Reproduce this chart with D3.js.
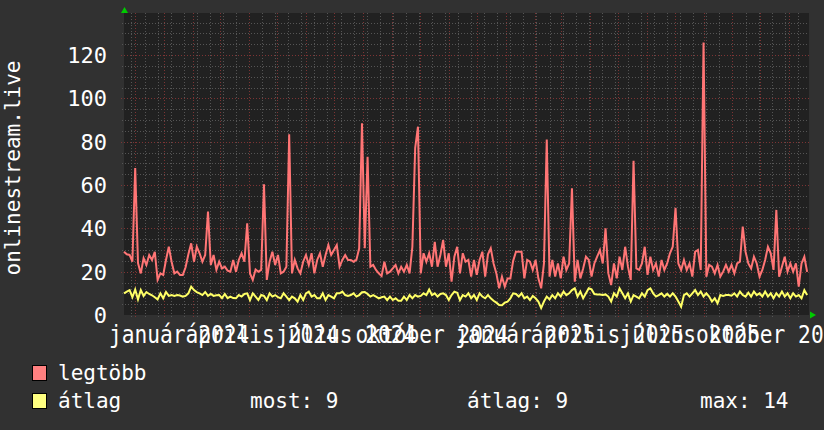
<!DOCTYPE html>
<html><head><meta charset="utf-8">
<script src="https://cdn.jsdelivr.net/npm/d3@7"></script>
<style>
html,body{margin:0;padding:0;background:#313131;}
svg{display:block;}
text{font-family:"DejaVu Sans Mono",monospace;fill:#ffffff;}
</style></head><body>
<svg id="c" width="824" height="430"></svg>
<script>
// ---- data ----
const startDate = "2023-11-19";
const endDate = "2025-11-22";
const stepDays = 3;
const minorAnchor = "2023-11-27";
const yTicks = [0, 20, 40, 60, 80, 100, 120];
const xLabels = ["január 2024","április 2024","július 2024","október 2024","január 2025","április 2025","július 2025","október 2025"];
const xLabelDates = ["2024-01-17","2024-04-15","2024-07-14","2024-10-14","2025-01-22","2025-04-20","2025-07-17","2025-10-14"];
const yTitle = "onlinestream.live";
const seriesNames = ["legtöbb", "átlag"];
const statLabels = ["most: 9", "átlag: 9", "max: 14"];
const maxValues = [
29.2,28,27.7,24.6,67.8,24,19.2,26.2,23.1,27.7,
25.4,29.2,16.2,19.2,18.5,25.4,31.5,24.6,19.2,20,
18.5,18.5,22,28,33.1,24.6,31.5,28.5,24.6,27.7,
47.7,23.1,27.7,20.8,24.6,21.5,22.3,20.5,20,25.4,
20,25.4,28.5,24.6,42.3,19.2,16.2,21,20,20.8,
60.3,16.2,24.6,29.2,23.1,27.7,19.2,20,22.3,83.4,
19.2,25.4,21.5,19.2,24.6,27.7,23.1,28.5,19.2,25.4,
28.5,22.3,27.7,32.3,27.7,30,32.3,22.3,25.4,27.7,
25.4,25.4,24.6,25.4,30.8,88.5,30.8,73,22.3,23.1,
20.8,19.2,18,24.6,19.2,20,21.5,23.1,19.2,22.3,
20,23.1,19.2,31.5,77,86.9,19.2,28.5,24.6,28.5,
22.3,33.8,22.3,27.7,34.6,22.3,28.5,15.4,26.9,31.5,
19.2,28.5,24.6,25.4,17.7,25.4,18.5,25.4,29.2,17.7,
28,30.8,23.8,19.2,12.3,17.7,13.1,16.9,16.9,25,
29.2,29.2,29.2,16.9,25.4,24.6,20.8,25.4,16.9,12.3,
23.8,81,17.7,25.4,17.7,23.8,16.9,26.9,20.8,23.8,
58.5,15.4,25.4,16.9,21.5,26.9,25.4,17.7,23.8,26.9,
30,23.8,40,19.2,13.8,23.8,16.9,26.9,20.8,31.5,
22.3,16.2,71.2,21.5,20.8,23.8,31.5,18.5,26.9,20.8,
23.8,17.7,25.4,20.8,23.8,28.5,31.5,49.5,23.8,20.8,
25.4,20.8,23.8,17.7,29.2,30,20.8,125.8,17.7,23.1,
22.3,19.2,23.1,17.7,20,23.1,20,23.1,19.2,23.8,
24.6,40.8,29.2,23.8,21.5,26.9,23.8,17.7,20.8,25.4,
31.5,28.5,20.8,48.5,17.7,22.3,26.9,20,23.8,20,
23.8,13.1,23.8,26.9,19.9
];
const avgValues = [
10,10.8,11.5,8.2,11.8,7.2,11.5,8.8,10.6,9.7,
9.1,8.2,7.2,10,7.7,10.6,8.8,9.2,8.8,9.2,
9,8.5,8.8,10,13.1,11.5,10.6,10,9.2,10.6,
8.8,9.7,8.8,9.1,9.2,7.8,9.7,7.8,8.5,7.8,
7.7,9.2,8.5,9.7,10,6.9,10,8.5,6.9,9.2,
8.8,6.9,10,8.5,9.2,8.2,7.7,10,8.5,6.9,
8.5,7.7,6.2,9.2,6.9,10,10.8,8.5,9.2,7.7,
7.7,10,6.9,9.2,8.5,7.7,10,10,10.8,9.2,
8.8,9.2,10,8.5,9.2,10.5,10.6,9.7,8.5,9.2,
8.5,7.7,8.2,8.5,6.9,8.5,6.9,7.7,6.6,6.6,
8.5,6.9,9.2,7.7,9.2,8.5,8.8,10,9.2,11.8,
9.2,10,8.5,9.7,10,9.2,6.9,9.2,10.8,10.3,
6.9,9.2,8.5,10,7.7,9.2,6.9,10,8.5,7.7,
9.2,7.7,6.6,5.7,4.6,4.5,5.7,6.2,7.7,10,
9.7,8.5,10,7.7,8.5,6.9,8.8,7.7,6.2,3.2,
6.2,8.5,7.2,9.2,7.7,10,8.5,10.8,9.2,10,
11.5,12.3,8.5,10.8,7.7,10,12.3,11.8,9.7,9.5,
9.5,9.2,9.5,8.5,6.2,10,8.5,12.3,10,7.7,
10,6.2,9.2,8.5,7.7,10,8.5,11.5,12.3,10,
8.5,9.2,10,8.5,9.7,8.5,10,8.5,6.2,3.8,
9.2,10,8.5,10,11.5,9.2,10.8,8.5,10,8.5,
6.2,7.7,5.4,9.2,8.8,9.2,9.2,8.9,10,8.5,
10.8,9.2,8.5,10.3,8.5,10.8,9.2,10,8.5,10.8,
8.5,10,7.7,10,8.5,10.8,8.5,10,7.7,10,
8.5,9.2,7.7,11.5,9.2
];

// ---- drawing ----
const parse = d3.utcParse("%Y-%m-%d");
const t0 = parse(startDate), t1 = parse(endDate);
const plot = {left: 124, right: 809, top: 13, bottom: 315};
const x = d3.scaleUtc().domain([t0, t1]).range([plot.left, plot.right]);
const y = d3.scaleLinear().domain([0, 120]).range([plot.bottom, 55]);
const svg = d3.select("#c");

svg.append("rect").attr("x", plot.left).attr("y", plot.top)
  .attr("width", plot.right - plot.left).attr("height", plot.bottom - plot.top)
  .attr("fill", "#212121");

const g = svg.append("g");
const minorCol = "#555555", majorCol = "#7d3434";
const yMax = y.invert(plot.top);
const yMinor = d3.range(5, yMax, 5).filter(v => v % 20 !== 0);
g.selectAll(".hm").data(yMinor).enter().append("line")
  .attr("x1", plot.left - 2).attr("x2", plot.right)
  .attr("y1", d => Math.round(y(d)) + 0.5).attr("y2", d => Math.round(y(d)) + 0.5)
  .attr("stroke", minorCol).attr("stroke-dasharray", "1,2");
const vMinor = d3.utcDay.range(parse(minorAnchor), t1, 14);
g.selectAll(".vm").data(vMinor).enter().append("line")
  .attr("x1", d => Math.round(x(d)) + 0.5).attr("x2", d => Math.round(x(d)) + 0.5)
  .attr("y1", plot.top).attr("y2", plot.bottom + 2)
  .attr("stroke", minorCol).attr("stroke-dasharray", "1,2");
g.selectAll(".hM").data(yTicks.filter(v => v > 0)).enter().append("line")
  .attr("x1", plot.left - 3).attr("x2", plot.right)
  .attr("y1", d => Math.round(y(d)) + 0.5).attr("y2", d => Math.round(y(d)) + 0.5)
  .attr("stroke", majorCol).attr("stroke-dasharray", "1,2");
const vMajor = d3.utcMonth.range(d3.utcMonth.ceil(t0), t1);
g.selectAll(".vM").data(vMajor).enter().append("line")
  .attr("x1", d => Math.round(x(d)) + 0.5).attr("x2", d => Math.round(x(d)) + 0.5)
  .attr("y1", plot.top).attr("y2", plot.bottom + 3)
  .attr("stroke", majorCol).attr("stroke-dasharray", "1,2");

const pts = vals => vals.map((v, i) => [d3.utcDay.offset(t0, i * stepDays), v]);
const line = d3.line().x(d => x(d[0])).y(d => y(d[1]));
svg.append("path").datum(pts(maxValues)).attr("d", line)
  .attr("fill", "none").attr("stroke", "#ff7575").attr("stroke-width", 2);
svg.append("path").datum(pts(avgValues)).attr("d", line)
  .attr("fill", "none").attr("stroke", "#ffff66").attr("stroke-width", 2);

svg.append("path").attr("d", `M${plot.left - 3},${plot.top} L${plot.left + 4},${plot.top} L${plot.left + 0.5},${plot.top - 6} Z`).attr("fill", "#00cc00");
svg.append("path").attr("d", `M${plot.right + 1},${plot.bottom - 3.5} L${plot.right + 1},${plot.bottom + 3.5} L${plot.right + 7},${plot.bottom} Z`).attr("fill", "#00cc00");

svg.selectAll(".yl").data(yTicks).enter().append("text")
  .attr("x", 107).attr("y", d => y(d)).attr("dy", "0.36em")
  .attr("text-anchor", "end").attr("font-size", 22).text(d => d);

svg.selectAll(".xl").data(xLabels).enter().append("text")
  .attr("transform", (d, i) => `translate(${x(parse(xLabelDates[i]))},343) scale(1,1.2)`)
  .attr("text-anchor", "middle").attr("font-size", 21.2).text(d => d);

svg.append("text").attr("transform", "translate(20,168) rotate(-90)")
  .attr("text-anchor", "middle").attr("font-size", 21).text(yTitle);

const legColors = ["#ff8080", "#ffff80"];
const legY = [373, 401];
seriesNames.forEach((n, i) => {
  svg.append("rect").attr("x", 32.5).attr("y", legY[i] - 7.5).attr("width", 14).attr("height", 15)
    .attr("fill", legColors[i]).attr("stroke", "#000").attr("stroke-width", 1);
  svg.append("text").attr("x", 58).attr("y", legY[i] + 7).attr("font-size", 21).text(n);
});
const statX = [250, 467, 700];
statLabels.forEach((s, i) => {
  svg.append("text").attr("x", statX[i]).attr("y", legY[1] + 7).attr("font-size", 21).text(s);
});
</script>
</body></html>
